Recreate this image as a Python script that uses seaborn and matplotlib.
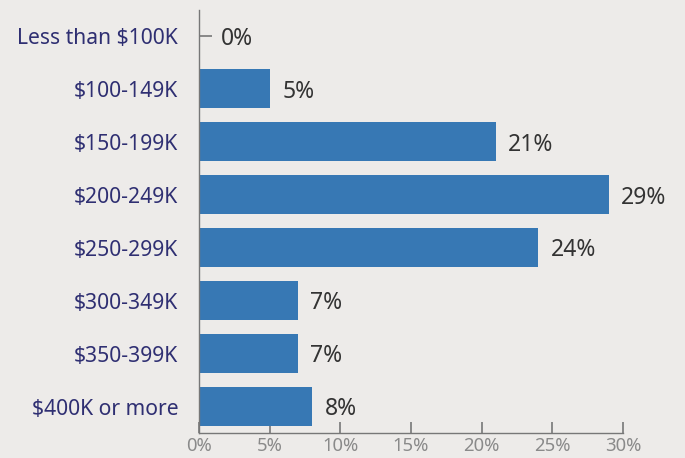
import matplotlib
matplotlib.use("Agg")
import matplotlib.pyplot as plt
import seaborn as sns
import pandas as pd

categories = ["Less than $100K", "$100-149K", "$150-199K", "$200-249K",
              "$250-299K", "$300-349K", "$350-399K", "$400K or more"]
shares = [0, 5, 21, 29, 24, 7, 7, 8]
x_ticks = [0, 5, 10, 15, 20, 25, 30]
x_tick_labels = ["0%", "5%", "10%", "15%", "20%", "25%", "30%"]

bg = "#EDEBE9"
bar_color = "#3778B4"

sns.set_theme(style="white")
plt.rcParams["font.family"] = ["Noto Sans", "DejaVu Sans"]

df = pd.DataFrame({"category": categories, "share": shares})

fig = plt.figure(figsize=(6.85, 4.58), dpi=100, facecolor=bg)
ax = fig.add_axes([199 / 685, 1 - 433 / 458, (623 - 199) / 685, (433 - 9.5) / 458])
ax.set_facecolor(bg)

sns.barplot(data=df, x="share", y="category", order=categories,
            color=bar_color, saturation=1, width=0.74, edgecolor="none",
            linewidth=0, ax=ax)

ax.set_xlim(0, 30)
ax.set_ylim(7.5, -0.5)
ax.set_xticks(x_ticks)
ax.set_xticklabels(x_tick_labels)
ax.set_xlabel("")
ax.set_ylabel("")

for side in ["top", "right"]:
    ax.spines[side].set_visible(False)
for side in ["left", "bottom"]:
    ax.spines[side].set_color("#777777")
    ax.spines[side].set_linewidth(1.0)

ax.tick_params(axis="x", bottom=True, direction="in", length=8, width=1.2,
               color="#777777", labelsize=13.3, labelcolor="#8A8A8A", pad=3)
ax.tick_params(axis="y", left=True, direction="in", length=9, width=1.2,
               color="#777777", labelsize=15.2, labelcolor="#2F2F72", pad=15)

for i, v in enumerate(shares):
    off = 9 + (7 if v == 0 else 0)
    ax.annotate(f"{v}%", xy=(v, i), xytext=(off, -2), textcoords="offset points",
                ha="left", va="center", fontsize=16.5, color="#333333")

fig.savefig("out.png", dpi=100, facecolor=bg)
